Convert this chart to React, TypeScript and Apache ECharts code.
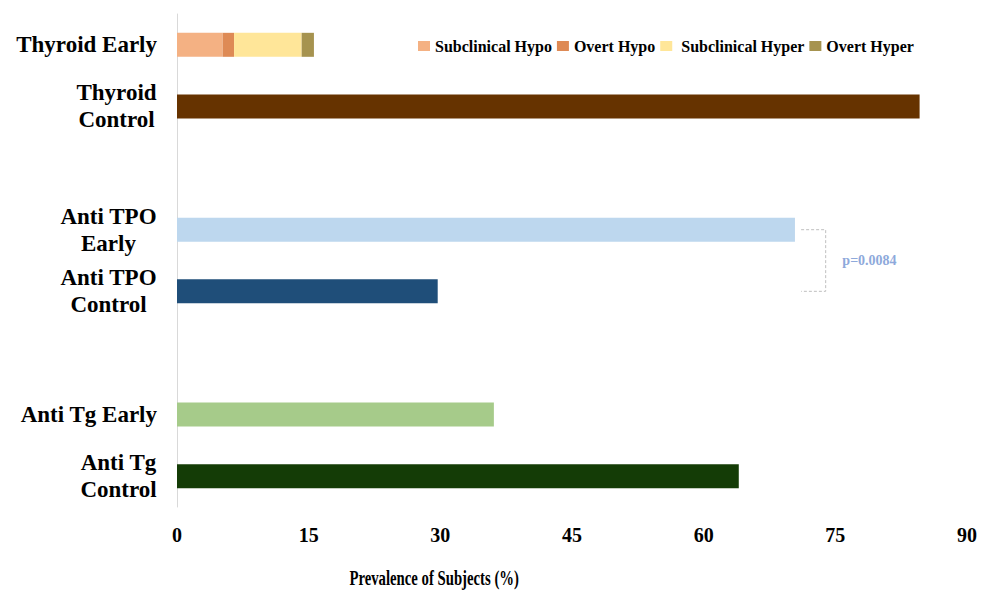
import React, { useEffect, useRef } from "react";
import * as echarts from "echarts";

const categories = [
  "Thyroid Early",
  "Thyroid\nControl",
  "",
  "Anti TPO\nEarly",
  "Anti TPO\nControl",
  " ",
  "Anti Tg Early",
  "Anti Tg\nControl",
];

// Thyroid Early breakdown (stacked)
const thyroidParts = ["Subclinical Hypo", "Overt Hypo", "Subclinical Hyper", "Overt Hyper"];
const thyroidValues = [5.2, 1.3, 7.7, 1.4];
const thyroidColors = ["#F4B183", "#DE8A55", "#FFE699", "#A6934F"];

// single bars per category (null where no bar)
const mainValues = [null, 84.6, null, 70.4, 29.7, null, 36.1, 64.0];
const mainColors = [null, "#663300", null, "#BDD7EE", "#1F4E79", null, "#A6CB8A", "#143C06"];

const xTicks = { min: 0, max: 90, interval: 15 };
const pValueText = "p=0.0084";
const axisTitle = "Prevalence of Subjects (%)";

const FONT = '"Liberation Serif", "Times New Roman", serif';
const LABEL_SIZE = 23;

function measure(text: string): number {
  const c = document.createElement("canvas");
  const ctx = c.getContext("2d");
  if (!ctx) return text.length * 11;
  ctx.font = `bold ${LABEL_SIZE}px ${FONT}`;
  return ctx.measureText(text).width;
}

export default function App() {
  const ref = useRef<HTMLDivElement>(null);

  useEffect(() => {
    if (!ref.current) return;
    const chart = echarts.init(ref.current, undefined, { renderer: "svg" });

    const rich: Record<string, any> = {};
    categories.forEach((c, i) => {
      if (c.includes("\n")) {
        const w = Math.ceil(Math.max(...c.split("\n").map(measure)));
        rich["l" + i] = {
          width: w,
          align: "center",
          fontFamily: FONT,
          fontWeight: "bold",
          fontSize: LABEL_SIZE,
          lineHeight: 27,
          color: "#000",
        };
      }
    });

    const series: any[] = thyroidParts.map((name, k) => ({
      name,
      type: "bar",
      stack: "a",
      barWidth: 24,
      itemStyle: { color: thyroidColors[k] },
      data: categories.map((_, i) => (i === 0 ? thyroidValues[k] : null)),
    }));
    series.push({
      name: "Prevalence",
      type: "bar",
      stack: "a",
      barWidth: 24,
      data: mainValues.map((v, i) =>
        v == null ? null : { value: v, itemStyle: { color: mainColors[i] } }
      ),
    });

    chart.setOption({
      animation: false,
      grid: { left: 177, right: 17, top: 14, bottom: 84 },
      legend: {
        data: thyroidParts,
        left: 413,
        top: 33,
        icon: "rect",
        itemWidth: 12,
        itemHeight: 10,
        itemGap: 5,
        formatter: (name: string) => (name === "Subclinical Hyper" ? " " + name : name),
        textStyle: { fontFamily: FONT, fontWeight: "bold", fontSize: 16, color: "#000" },
      },
      xAxis: {
        type: "value",
        min: xTicks.min,
        max: xTicks.max,
        interval: xTicks.interval,
        splitLine: { show: false },
        axisLine: { show: false },
        axisTick: { show: false },
        axisLabel: {
          fontFamily: FONT,
          fontWeight: "bold",
          fontSize: 20,
          color: "#000",
          margin: 18,
        },
      },
      yAxis: {
        type: "category",
        data: categories,
        inverse: true,
        axisLine: { show: true, lineStyle: { color: "#D9D9D9", width: 1 } },
        axisTick: { show: false },
        axisLabel: {
          margin: 20,
          interval: 0,
          fontFamily: FONT,
          fontWeight: "bold",
          fontSize: LABEL_SIZE,
          lineHeight: 27,
          color: "#000",
          rich,
          formatter: (value: string, index: number) => {
            if (value.includes("\n")) {
              return value
                .split("\n")
                .map((line) => `{l${index}|${line}}`)
                .join("\n");
            }
            return value;
          },
        },
      },
      series,
    });

    const pTop = chart.convertToPixel({ gridIndex: 0 }, [71.1, 3]) as number[];
    const pTopR = chart.convertToPixel({ gridIndex: 0 }, [73.9, 3]) as number[];
    const pBot = chart.convertToPixel({ gridIndex: 0 }, [71.1, 4]) as number[];
    const pText = chart.convertToPixel({ gridIndex: 0 }, [75.8, 3]) as number[];
    const titlePos = chart.convertToPixel({ gridIndex: 0 }, [29.3, 7]) as number[];

    chart.setOption({
      graphic: [
        {
          type: "polyline",
          silent: true,
          shape: {
            points: [
              [pTop[0], pTop[1]],
              [pTopR[0], pTop[1]],
              [pTopR[0], pBot[1]],
              [pBot[0], pBot[1]],
            ],
          },
          style: { stroke: "#BFBFBF", lineWidth: 1, lineDash: [3, 2], fill: null },
        },
        {
          type: "text",
          silent: true,
          x: pText[0],
          y: (pTop[1] + pBot[1]) / 2,
          style: {
            text: pValueText,
            fill: "#8EA9DB",
            font: `bold 14px ${FONT}`,
            textAlign: "left",
            textVerticalAlign: "middle",
          },
        },
        {
          type: "text",
          silent: true,
          x: titlePos[0],
          y: 577,
          scaleX: 0.67,
          style: {
            text: axisTitle,
            fill: "#000",
            font: `bold 22px ${FONT}`,
            textAlign: "center",
            textVerticalAlign: "middle",
          },
        },
      ],
    });

    return () => chart.dispose();
  }, []);

  return (
    <div
      ref={ref}
      style={{ position: "fixed", left: 0, top: 0, width: 984, height: 591, background: "#fff" }}
    />
  );
}
